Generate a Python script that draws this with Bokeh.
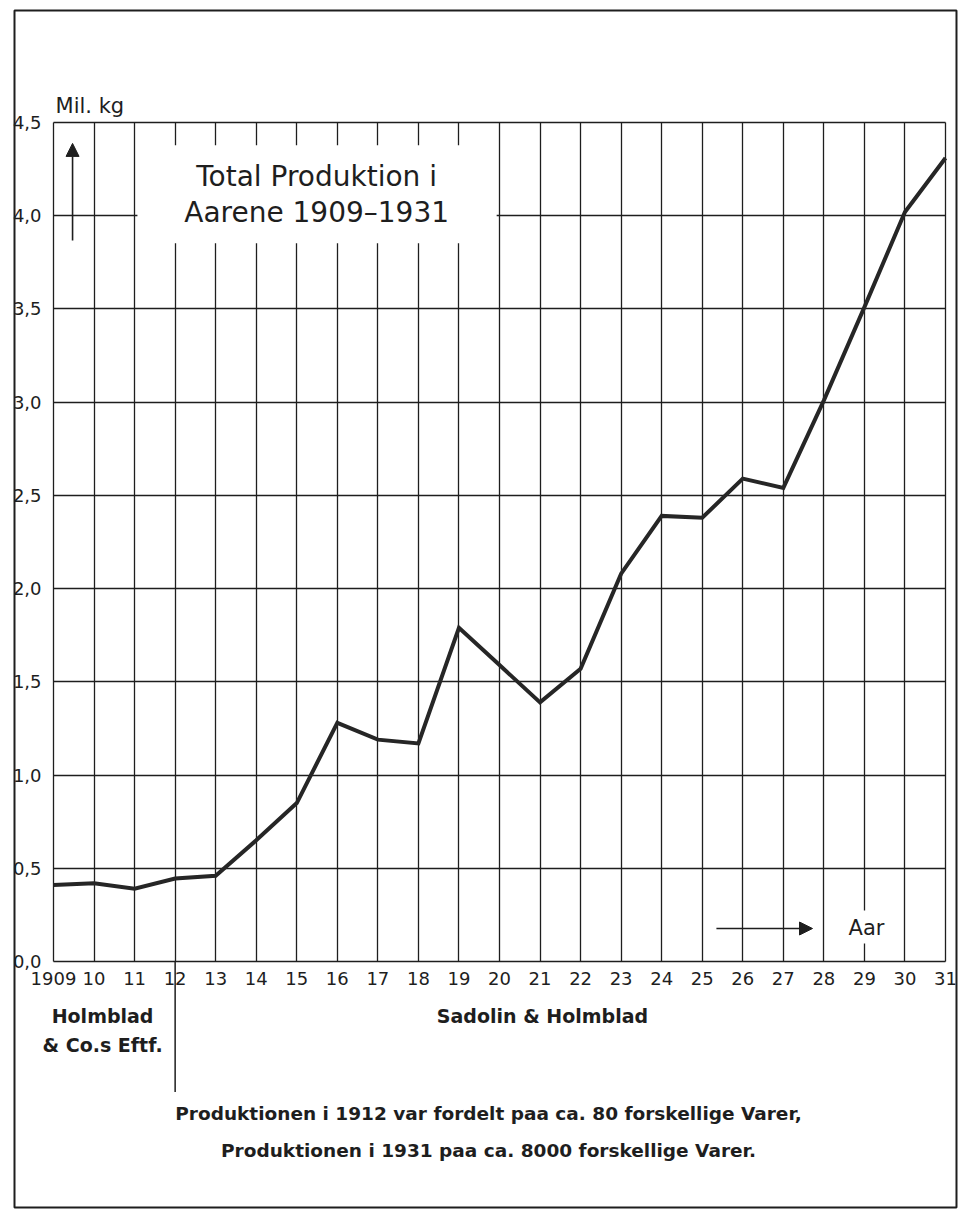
from bokeh.plotting import figure
from bokeh.models import Range1d, Label, Arrow, NormalHead, BoxAnnotation, Grid
from bokeh.embed import file_html
from bokeh.resources import INLINE

# ---- data ----
years = list(range(1909, 1932))
production = [0.41, 0.42, 0.39, 0.445, 0.46, 0.65, 0.85, 1.28, 1.19, 1.17, 1.79,
              1.59, 1.39, 1.57, 2.08, 2.39, 2.38, 2.59, 2.54, 3.01, 3.51, 4.02, 4.31]
x_tick_labels = ["1909", "10", "11", "12", "13", "14", "15", "16", "17", "18", "19",
                 "20", "21", "22", "23", "24", "25", "26", "27", "28", "29", "30", "31"]
y_ticks = [0.0, 0.5, 1.0, 1.5, 2.0, 2.5, 3.0, 3.5, 4.0, 4.5]
y_tick_labels = ["0,0", "0,5", "1,0", "1,5", "2,0", "2,5", "3,0", "3,5", "4,0", "4,5"]

INK = "#1e1e1e"
FONT = "DejaVu Sans"

# The frame fills the whole canvas so that notes below the axis can be drawn;
# the plotting area itself is 1909-1931 x 0-4.5.
p = figure(width=959, height=1211, title=None,
           x_range=Range1d(1907.6928, 1931.3452), y_range=Range1d(-1.3409, 5.1545),
           output_backend="svg", toolbar_location=None, min_border=0)
p.background_fill_color = "white"
p.border_fill_color = "white"
p.outline_line_color = None

# axes, placed at the edges of the plotting area
p.xaxis.ticker = years
p.xaxis.major_label_overrides = {y: l for y, l in zip(years, x_tick_labels)}
p.yaxis.ticker = y_ticks
p.yaxis.major_label_overrides = {y: l for y, l in zip(y_ticks, y_tick_labels)}
p.xaxis.fixed_location = 0
p.yaxis.fixed_location = 1909
for ax in (p.xaxis, p.yaxis):
    ax.axis_line_color = None
    ax.major_tick_line_color = None
    ax.minor_tick_line_color = None
    ax.major_label_text_font = FONT
    ax.major_label_text_font_size = "18px"
    ax.major_label_text_color = INK
p.xaxis.major_label_standoff = 4
p.yaxis.major_label_standoff = 6

# grid
p.grid.grid_line_color = INK
p.grid.grid_line_width = 1.3
p.grid.grid_line_alpha = 1.0
if "cross_bounds" in Grid.properties():
    p.xgrid.cross_bounds = (0, 4.5)
    p.ygrid.cross_bounds = (1909, 1931)
else:
    p.grid.visible = False
    p.segment(x0=years, x1=years, y0=[0] * len(years), y1=[4.5] * len(years),
              line_color=INK, line_width=1.3)
    p.segment(x0=[1909] * len(y_ticks), x1=[1931] * len(y_ticks), y0=y_ticks, y1=y_ticks,
              line_color=INK, line_width=1.3)

# white panels that interrupt the grid (title box and "Aar" label)
p.quad(left=[1911.07, 1928.48], right=[1919.93, 1929.72],
       bottom=[3.852, 0.097], top=[4.378, 0.274],
       fill_color="white", line_color=None)

# production line
p.line(years, production, line_width=4, line_color="#262626", line_join="miter")

# arrows
p.add_layout(Arrow(end=NormalHead(size=13, fill_color=INK, line_color=INK),
                   x_start=1909.47, y_start=3.867, x_end=1909.47, y_end=4.388,
                   line_color=INK, line_width=1.6))
p.add_layout(Arrow(end=NormalHead(size=13, fill_color=INK, line_color=INK),
                   x_start=1925.35, y_start=0.177, x_end=1927.72, y_end=0.177,
                   line_color=INK, line_width=1.6))

# separator line under the x axis at 1912
p.add_layout(Arrow(end=None, x_start=1912, y_start=0, x_end=1912, y_end=-0.70,
                   line_color=INK, line_width=1.5))

# paper border
p.add_layout(BoxAnnotation(left=1908.038, right=1931.271, bottom=-1.3195, top=5.101,
                           fill_alpha=0, line_color=INK, line_width=2, line_alpha=1))

def lab(x, y, text, size, align="left", style="normal"):
    p.add_layout(Label(x=x, y=y, text=text, text_font=FONT, text_font_size=size,
                       text_align=align, text_baseline="middle", text_color=INK,
                       text_font_style=style))

lab(1909.05, 4.586, "Mil. kg", "21px")
lab(1915.49, 4.211, "Total Produktion i", "28px", align="center")
lab(1915.49, 4.015, "Aarene 1909\u20131931", "28px", align="center")
lab(1928.61, 0.182, "Aar", "21px")
lab(1910.21, -0.292, "Holmblad", "19px", align="center", style="bold")
lab(1910.21, -0.448, "& Co.s Eftf.", "19px", align="center", style="bold")
lab(1921.06, -0.292, "Sadolin & Holmblad", "19px", align="center", style="bold")
lab(1919.73, -0.815, "Produktionen i 1912 var fordelt paa ca. 80 forskellige Varer,",
    "18.5px", align="center", style="bold")
lab(1919.73, -1.014, "Produktionen i 1931 paa ca. 8000 forskellige Varer.",
    "18.5px", align="center", style="bold")

open("out.html", "w").write(file_html(p, INLINE))
